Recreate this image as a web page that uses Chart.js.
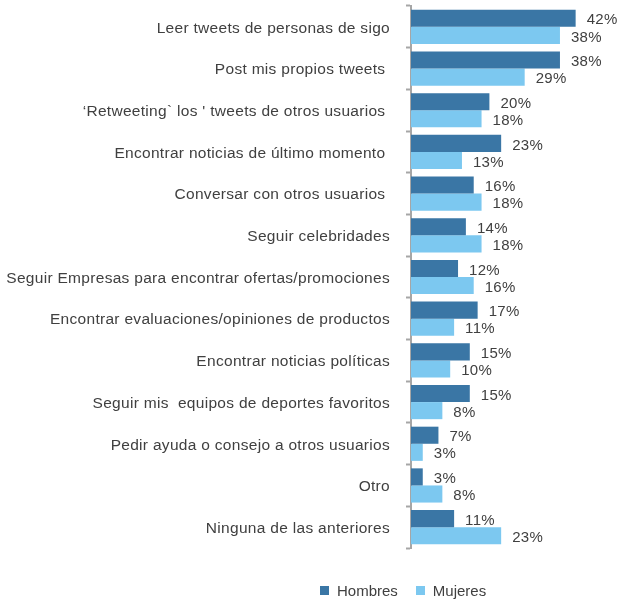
<!DOCTYPE html>
<html>
<head>
<meta charset="utf-8">
<script src="https://cdn.jsdelivr.net/npm/chart.js@4/dist/chart.umd.min.js"></script>
<style>
  html, body { margin: 0; padding: 0; background: #fff; }
  #wrap { position: relative; width: 621px; height: 605px; }
  #legend { position: absolute; left: 320px; top: 582px; display: flex; align-items: center;
    font-family: 'Liberation Sans', Arial, sans-serif; font-size: 15px; color: #404040; }
  #legend span.box { display: inline-block; width: 9px; height: 9px; margin-right: 8px; }
  #legend span.item { display: flex; align-items: center; margin-right: 18px; }
</style>
</head>
<body>
<div id="wrap">
  <canvas id="chart" width="621" height="605"></canvas>
  <div id="legend"></div>
</div>
<script>
const categories = [
  'Leer tweets de personas de sigo',
  'Post mis propios tweets ',
  '\u2018Retweeting` los \' tweets de otros usuarios ',
  'Encontrar noticias de último momento ',
  'Conversar con otros usuarios ',
  'Seguir celebridades',
  'Seguir Empresas para encontrar ofertas/promociones',
  'Encontrar evaluaciones/opiniones de productos',
  'Encontrar noticias políticas',
  'Seguir mis  equipos de deportes favoritos',
  'Pedir ayuda o consejo a otros usuarios',
  'Otro',
  'Ninguna de las anteriores'
];
const hombres = [42, 38, 20, 23, 16, 14, 12, 17, 15, 15, 7, 3, 11];
const mujeres = [38, 29, 18, 13, 18, 18, 16, 11, 10, 8, 3, 8, 23];
const seriesNames = ['Hombres', 'Mujeres'];
const seriesColors = ['#3A76A5', '#7CC8F0'];

const textColor = '#404040';
const axisColor = '#A6A6A6';
const fontFamily = "'Liberation Sans', Arial, sans-serif";

// a touch of extra letter spacing for canvas text
const spacing = {
  id: 'spacing',
  beforeLayout(chart) { chart.ctx.letterSpacing = '0.3px'; },
  beforeDraw(chart) { chart.ctx.letterSpacing = '0.3px'; }
};

// value labels to the right of each bar
const valueLabels = {
  id: 'valueLabels',
  afterDatasetsDraw(chart) {
    const ctx = chart.ctx;
    ctx.save();
    ctx.font = '15px ' + fontFamily;
    ctx.fillStyle = textColor;
    ctx.textAlign = 'left';
    ctx.textBaseline = 'middle';
    chart.data.datasets.forEach((ds, i) => {
      chart.getDatasetMeta(i).data.forEach((bar, j) => {
        ctx.fillText(ds.data[j] + '%', bar.x + 11, bar.y + 2);
      });
    });
    ctx.restore();
  }
};

const chart = new Chart(document.getElementById('chart'), {
  type: 'bar',
  data: {
    labels: categories,
    datasets: [
      { label: seriesNames[0], data: hombres, backgroundColor: seriesColors[0] },
      { label: seriesNames[1], data: mujeres, backgroundColor: seriesColors[1] }
    ]
  },
  options: {
    indexAxis: 'y',
    responsive: false,
    animation: false,
    categoryPercentage: 0.82,
    barPercentage: 1.0,
    layout: { padding: { left: 0, right: 14, top: 6, bottom: 57 } },
    plugins: {
      legend: { display: false },
      tooltip: { enabled: false }
    },
    scales: {
      x: { display: false, min: 0, max: 50 },
      y: {
        afterFit(scale) {
          scale.width = 411;
          scale.paddingTop = 0;
          scale.paddingBottom = 0;
        },
        border: { display: true, color: axisColor, width: 2 },
        grid: { offset: true, drawOnChartArea: false, tickLength: 5, tickColor: axisColor, tickWidth: 2 },
        ticks: { color: textColor, padding: 16, labelOffset: 1.5, font: { family: fontFamily, size: 15.5 } }
      }
    }
  },
  plugins: [spacing, valueLabels]
});

// legend built from the datasets
const legend = document.getElementById('legend');
chart.data.datasets.forEach(ds => {
  const item = document.createElement('span');
  item.className = 'item';
  item.innerHTML = `<span class="box" style="background:${ds.backgroundColor}"></span>${ds.label}`;
  legend.appendChild(item);
});
</script>
</body>
</html>
